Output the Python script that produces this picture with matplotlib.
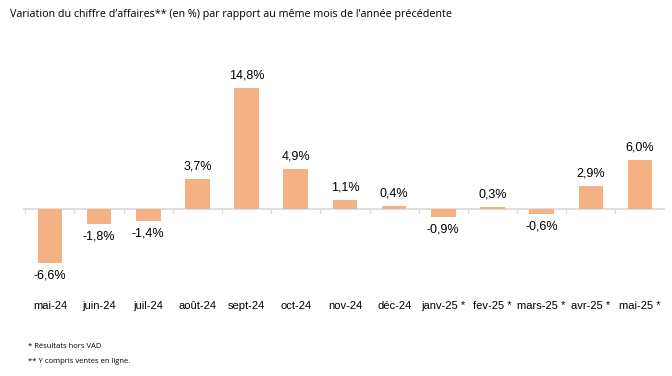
import numpy as np
import matplotlib.pyplot as plt

mois = ["mai-24", "juin-24", "juil-24", "août-24", "sept-24", "oct-24", "nov-24",
        "déc-24", "janv-25 *", "fev-25 *", "mars-25 *", "avr-25 *", "mai-25 *"]
variation = [-6.6, -1.8, -1.4, 3.7, 14.8, 4.9, 1.1, 0.4, -0.9, 0.3, -0.6, 2.9, 6.0]
notes = ["* Résultats hors VAD", "** Y compris ventes en ligne."]
titre = "Variation du chiffre d\u2019affaires** (en %) par rapport au même mois de l\u2019année précédente"

plt.rcParams['font.family'] = ['Liberation Sans', 'DejaVu Sans']

fig = plt.figure(figsize=(6.72, 3.76), dpi=100)
ax = fig.add_axes([0.034, 0.215, 0.955, 0.678])

x = np.arange(len(mois))
ax.bar(x, variation, width=0.5, color="#f4b183", zorder=2)
ax.axhline(0, color="#d9d9d9", lw=1.2, zorder=1)
for b in np.arange(len(mois) + 1) - 0.5:
    ax.plot([b, b], [0, -0.45], color="#d9d9d9", lw=0.8, zorder=1)

for xi, v in zip(x, variation):
    lab = f"{v:.1f}%".replace(".", ",")
    if v >= 0:
        ax.text(xi, v + 0.8, lab, ha="center", va="bottom", fontsize=9)
    else:
        ax.text(xi, v - 0.8, lab, ha="center", va="top", fontsize=9)

ax.set_xlim(-0.55, len(mois) - 0.5)
ax.set_ylim(-10.5, 20.7)
ax.set_xticks(x)
ax.set_xticklabels(mois, fontsize=8)
ax.tick_params(axis="x", length=0, pad=4)
ax.set_yticks([])
for s in ax.spines.values():
    s.set_visible(False)

fig.text(0.015, 0.962, titre, fontsize=7.75, family=['Open Sans', 'DejaVu Sans'], va="center")
fig.text(0.042, 0.078, notes[0], fontsize=5.5, family=['Open Sans', 'DejaVu Sans'], va="center")
fig.text(0.042, 0.038, notes[1], fontsize=5.5, family=['Open Sans', 'DejaVu Sans'], va="center")

fig.savefig("out.png", dpi=100)
